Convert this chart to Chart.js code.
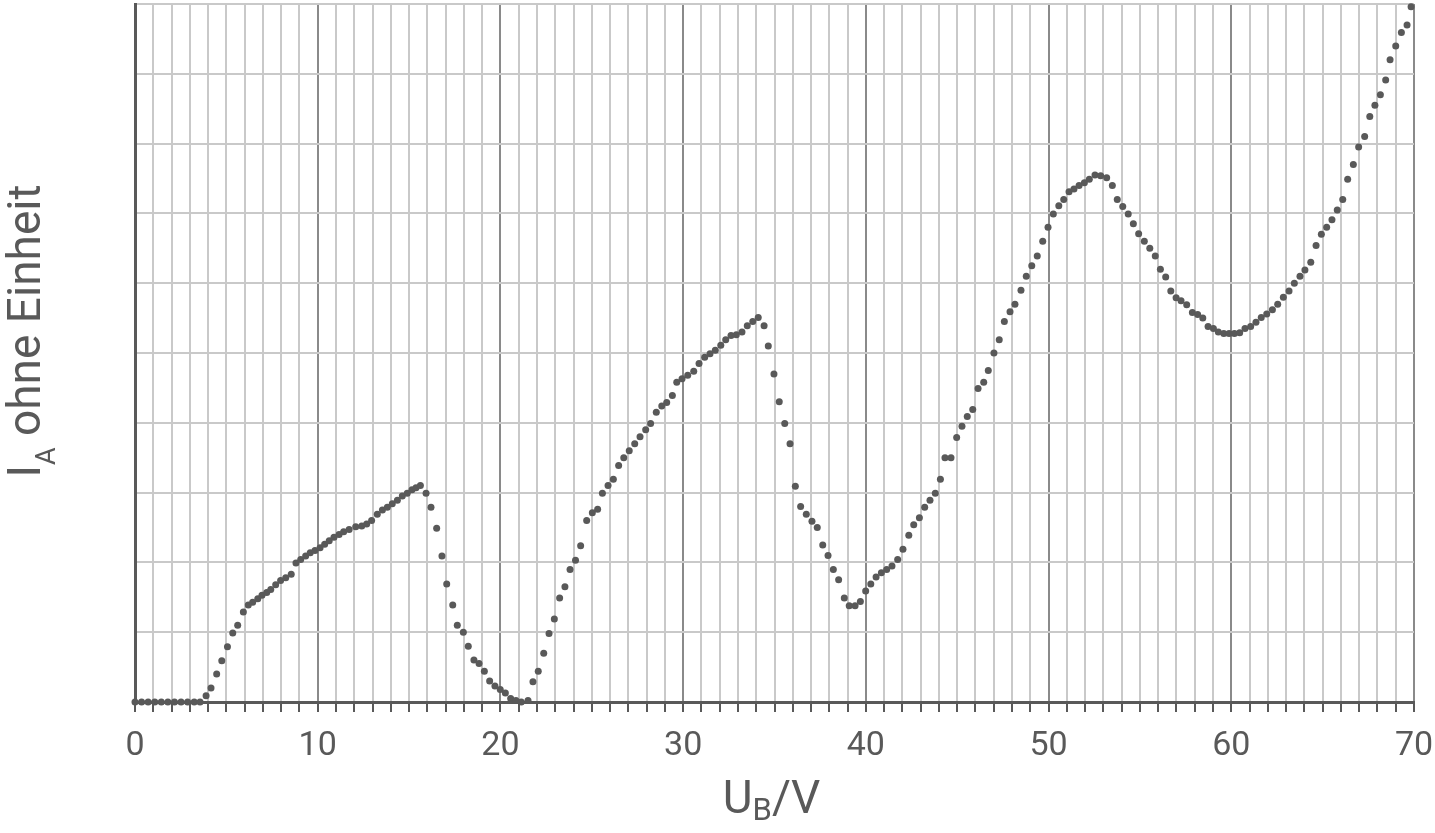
<!DOCTYPE html>
<html>
<head>
<meta charset="utf-8">
<script src="https://cdn.jsdelivr.net/npm/chart.js@4/dist/chart.umd.min.js"></script>
<style>
body{ margin:0; background:#ffffff; }
canvas{ display:block; }
</style>
</head>
<body>
<canvas id="chart" width="1435" height="833"></canvas>
<script>
const TEXT_COLOR = '#595959'
const DOT_COLOR = '#595959'
const MINOR_GRID = '#c9c9c9'
const MAJOR_GRID = '#8a8a8a'
const FONT = 'Roboto'

const xTicks = [0, 10, 20, 30, 40, 50, 60, 70]

const uB = [0, 0.36, 0.72, 1.08, 1.44, 1.8, 2.16, 2.52, 2.88, 3.24, 3.56,
    3.89, 4.16, 4.47, 4.75, 5.06, 5.35, 5.62, 5.93, 6.20, 6.44, 6.72, 6.95, 7.21, 7.43, 7.70, 7.97, 8.25, 8.55, 8.81, 9.07,
    9.34, 9.59, 9.85, 10.13, 10.38, 10.63, 10.89, 11.17, 11.42, 11.72, 12.08, 12.41, 12.68, 12.95, 13.26, 13.54, 13.81, 14.08,
    14.36, 14.63, 14.90, 15.16, 15.38, 15.62, 15.93, 16.20, 16.51, 16.80, 17.06, 17.39, 17.64, 17.97, 18.24, 18.55, 18.83,
    19.12, 19.41, 19.70, 19.99, 20.27, 20.56, 20.85, 21.14, 21.51, 21.78, 22.07, 22.37, 22.66, 22.95, 23.24, 23.53, 23.81,
    24.11, 24.39, 24.72, 25.03, 25.32, 25.58, 25.89, 26.18, 26.47, 26.75, 27.05, 27.35, 27.64, 27.95, 28.22, 28.53, 28.83,
    29.10, 29.41, 29.65, 29.94, 30.25, 30.58, 30.87, 31.18, 31.47, 31.76, 32.06, 32.33, 32.62, 32.91, 33.22, 33.51, 33.81,
    34.11, 34.43, 34.66, 34.97, 35.26, 35.56, 35.85, 36.14, 36.43, 36.74, 37.05, 37.34, 37.64, 37.93, 38.22, 38.51, 38.82,
    39.09, 39.41, 39.70, 39.99, 40.27, 40.56, 40.85, 41.14, 41.43, 41.74, 42.03, 42.35, 42.62, 42.93, 43.22, 43.51, 43.80,
    44.08, 44.33, 44.66, 44.97, 45.26, 45.55, 45.85, 46.14, 46.45, 46.70, 47.01, 47.30, 47.58, 47.89, 48.16, 48.49, 48.78,
    49.08, 49.38, 49.68, 49.97, 50.26, 50.56, 50.83, 51.12, 51.39, 51.67, 51.96, 52.23, 52.54, 52.85, 53.18, 53.49, 53.76,
    54.06, 54.36, 54.64, 54.93, 55.24, 55.54, 55.84, 56.12, 56.41, 56.69, 56.98, 57.25, 57.56, 57.87, 58.16, 58.44, 58.73,
    59.02, 59.29, 59.59, 59.88, 60.17, 60.46, 60.75, 61.06, 61.35, 61.64, 61.94, 62.25, 62.54, 62.85, 63.16, 63.45, 63.76,
    64.03, 64.35, 64.64, 64.93, 65.22, 65.51, 65.80, 66.10, 66.37, 66.68, 66.97, 67.30, 67.58, 67.86, 68.16, 68.45, 68.69,
    69.00, 69.31, 69.62, 69.84]

const iA = [0, 0, 0, 0, 0, 0, 0, 0, 0, 0, 0,
    0.09, 0.20, 0.40, 0.59, 0.79, 0.99, 1.10, 1.29, 1.39, 1.43, 1.48, 1.53, 1.57, 1.61, 1.68, 1.74, 1.78, 1.83, 1.99, 2.04,
    2.09, 2.14, 2.17, 2.21, 2.26, 2.31, 2.36, 2.40, 2.44, 2.47, 2.51, 2.52, 2.55, 2.60, 2.69, 2.75, 2.79, 2.84,
    2.89, 2.95, 2.99, 3.04, 3.07, 3.10, 2.99, 2.79, 2.49, 2.09, 1.69, 1.39, 1.10, 1.00, 0.80, 0.60, 0.55,
    0.44, 0.30, 0.23, 0.18, 0.13, 0.05, 0.02, 0.00, 0.02, 0.29, 0.44, 0.70, 0.98, 1.19, 1.49, 1.65, 1.90,
    2.03, 2.24, 2.60, 2.71, 2.76, 2.99, 3.10, 3.19, 3.39, 3.50, 3.60, 3.70, 3.80, 3.90, 3.99, 4.15, 4.24,
    4.29, 4.39, 4.58, 4.63, 4.68, 4.74, 4.85, 4.94, 4.99, 5.04, 5.11, 5.19, 5.25, 5.26, 5.30, 5.39, 5.45,
    5.51, 5.39, 5.10, 4.70, 4.30, 3.99, 3.70, 3.09, 2.80, 2.69, 2.59, 2.50, 2.25, 2.10, 1.90, 1.75, 1.49,
    1.38, 1.38, 1.44, 1.59, 1.69, 1.79, 1.85, 1.90, 1.95, 2.04, 2.19, 2.39, 2.54, 2.64, 2.79, 2.89, 2.99,
    3.19, 3.50, 3.50, 3.79, 3.95, 4.09, 4.19, 4.49, 4.58, 4.75, 5.00, 5.19, 5.45, 5.59, 5.70, 5.90, 6.10,
    6.25, 6.39, 6.60, 6.80, 6.99, 7.11, 7.20, 7.31, 7.35, 7.40, 7.44, 7.49, 7.55, 7.54, 7.51, 7.40, 7.20,
    7.10, 6.99, 6.85, 6.71, 6.60, 6.50, 6.39, 6.20, 6.09, 5.89, 5.79, 5.75, 5.69, 5.58, 5.55, 5.50, 5.38,
    5.35, 5.30, 5.28, 5.28, 5.28, 5.29, 5.35, 5.38, 5.44, 5.51, 5.56, 5.62, 5.70, 5.80, 5.89, 6.00, 6.10,
    6.19, 6.30, 6.54, 6.70, 6.80, 6.91, 7.05, 7.20, 7.49, 7.70, 7.95, 8.10, 8.39, 8.55, 8.70, 8.91, 9.20,
    9.40, 9.59, 9.70, 9.96]

function drawSubscripted(ctx, main, sub, rest, cx, baseline, size, subSize, subShift){
    ctx.font = `${size}px ${FONT}`
    const w1 = ctx.measureText(main).width
    const w3 = ctx.measureText(rest).width
    ctx.font = `${subSize}px ${FONT}`
    const w2 = ctx.measureText(sub).width
    let x = cx - (w1 + w2 + w3) / 2
    ctx.textAlign = 'left'
    ctx.textBaseline = 'alphabetic'
    ctx.font = `${size}px ${FONT}`
    ctx.fillText(main, x, baseline)
    x += w1
    ctx.font = `${subSize}px ${FONT}`
    ctx.fillText(sub, x, baseline + subShift)
    x += w2
    ctx.font = `${size}px ${FONT}`
    ctx.fillText(rest, x, baseline)
}

const axisTitles = {
    id: 'axisTitles',
    afterDraw(chart){
        const ctx = chart.ctx
        const area = chart.chartArea
        ctx.save()
        ctx.fillStyle = TEXT_COLOR
        drawSubscripted(ctx, 'U', 'B', '/V', (area.left + area.right) / 2 - 3, 813, 46, 31, 7)
        ctx.translate(40, 331)
        ctx.rotate(-Math.PI / 2)
        drawSubscripted(ctx, 'I', 'A', ' ohne Einheit', 0, 0, 46, 27, 15)
        ctx.restore()
    }
}

const points = uB.map((u, i) => ({x: u, y: iA[i]}))

new Chart(document.getElementById('chart'), {
    type: 'scatter',
    data: {
        datasets: [{
            data: points,
            backgroundColor: DOT_COLOR,
            borderWidth: 0,
            pointRadius: 3.5,
            clip: false
        }]
    },
    options: {
        responsive: false,
        animation: false,
        layout: {
            padding: {top: 3, right: 21, left: 0, bottom: 0}
        },
        plugins: {
            legend: {display: false},
            tooltip: {enabled: false}
        },
        scales: {
            x: {
                type: 'linear',
                min: 0,
                max: 70,
                afterFit(scale){
                    scale.height = 131
                    scale.paddingLeft = 0
                    scale.paddingRight = 0
                },
                ticks: {
                    stepSize: 1,
                    autoSkip: false,
                    maxRotation: 0,
                    padding: 14,
                    color: TEXT_COLOR,
                    font: {family: FONT, size: 34},
                    callback: (v) => xTicks.includes(v) ? String(v) : ''
                },
                grid: {
                    color: (c) => xTicks.includes(c.tick.value) ? MAJOR_GRID : MINOR_GRID,
                    lineWidth: 2,
                    tickLength: 10,
                    tickColor: TEXT_COLOR,
                    tickWidth: 2
                },
                border: {color: TEXT_COLOR, width: 3}
            },
            y: {
                min: 0,
                max: 10,
                afterFit(scale){ scale.width = 135 },
                ticks: {display: false, stepSize: 1},
                grid: {color: MINOR_GRID, lineWidth: 2, drawTicks: false},
                border: {color: TEXT_COLOR, width: 3}
            }
        }
    },
    plugins: [axisTitles]
})
</script>
</body>
</html>
